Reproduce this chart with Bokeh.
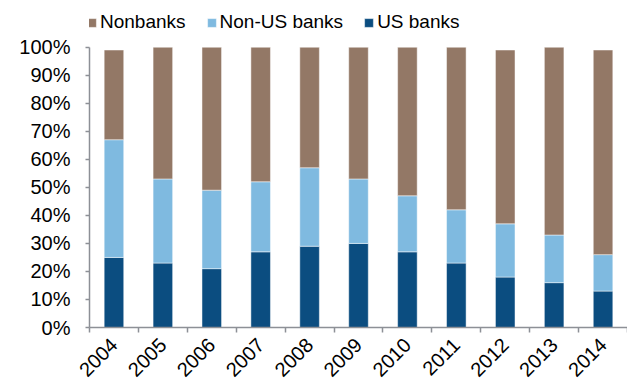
import math
from bokeh.plotting import figure
from bokeh.models import (Range1d, FixedTicker, NumeralTickFormatter, Legend, LegendItem,
                          ColumnDataSource)
from bokeh.embed import file_html
from bokeh.resources import INLINE

years = ["2004", "2005", "2006", "2007", "2008", "2009", "2010", "2011", "2012", "2013", "2014"]
us_banks = [25, 23, 21, 27, 29, 30, 27, 23, 18, 16, 13]
non_us_banks = [42, 30, 28, 25, 28, 23, 20, 19, 19, 17, 13]
nonbanks = [32, 47, 51, 48, 43, 47, 53, 58, 62, 67, 73]

C_US = "#0b4d80"
C_NONUS = "#7fbae0"
C_NONBANK = "#937866"
AXIS = "#8d9096"
FONT = "Liberation Sans"

xpos = [i + 0.5 for i in range(len(years))]
src = ColumnDataSource(dict(
    x=xpos,
    us=[v / 100 for v in us_banks],
    nonus=[v / 100 for v in non_us_banks],
    nonbanks=[v / 100 for v in nonbanks],
))

p = figure(width=627, height=390, output_backend="svg", toolbar_location=None,
           x_range=Range1d(0, 11), y_range=Range1d(0, 1.1667),
           min_border_left=89, min_border_right=0, min_border_top=0, min_border_bottom=63)
p.outline_line_color = None
p.xgrid.visible = False
p.ygrid.visible = False

rs = p.vbar_stack(["us", "nonus", "nonbanks"], x="x", width=0.4, source=src,
                  color=[C_US, C_NONUS, C_NONBANK],
                  line_color="white", line_width=0.8, line_alpha=0.6)

# y axis
ya = p.yaxis[0]
ya.bounds = (0, 1)
ya.ticker = FixedTicker(ticks=[i / 10 for i in range(11)])
ya.formatter = NumeralTickFormatter(format="0%")
ya.axis_line_color = AXIS
ya.axis_line_width = 1.5
ya.major_tick_line_color = AXIS
ya.major_tick_line_width = 1.5
ya.major_tick_out = 4
ya.major_tick_in = 0
ya.minor_tick_line_color = None
ya.major_label_text_font = FONT
ya.major_label_text_font_size = "20px"
ya.major_label_text_color = "black"
ya.major_label_standoff = 15

# x axis
xa = p.xaxis[0]
xa.ticker = FixedTicker(ticks=xpos, minor_ticks=list(range(12)))
xa.major_label_overrides = {x: y for x, y in zip(xpos, years)}
xa.axis_line_color = AXIS
xa.axis_line_width = 1.5
xa.major_tick_line_color = None
xa.minor_tick_line_color = AXIS
xa.minor_tick_line_width = 1.5
xa.minor_tick_out = 5
xa.minor_tick_in = 0
xa.major_label_orientation = math.pi / 4
xa.major_label_text_font = FONT
xa.major_label_text_font_size = "20px"
xa.major_label_text_color = "black"
xa.major_label_standoff = 8

legend = Legend(items=[
    LegendItem(label="Nonbanks", renderers=[rs[2]]),
    LegendItem(label="Non-US banks", renderers=[rs[1]]),
    LegendItem(label="US banks", renderers=[rs[0]]),
], orientation="horizontal", location=(-3, 294))
legend.glyph_width = 11
legend.glyph_height = 11
legend.label_standoff = 3
legend.spacing = 20
legend.padding = 0
legend.margin = 0
legend.border_line_color = None
legend.background_fill_alpha = 0
legend.label_text_font = FONT
legend.label_text_font_size = "19px"
legend.label_text_color = "black"
p.add_layout(legend, "center")

open("out.html", "w").write(file_html(p, INLINE))
